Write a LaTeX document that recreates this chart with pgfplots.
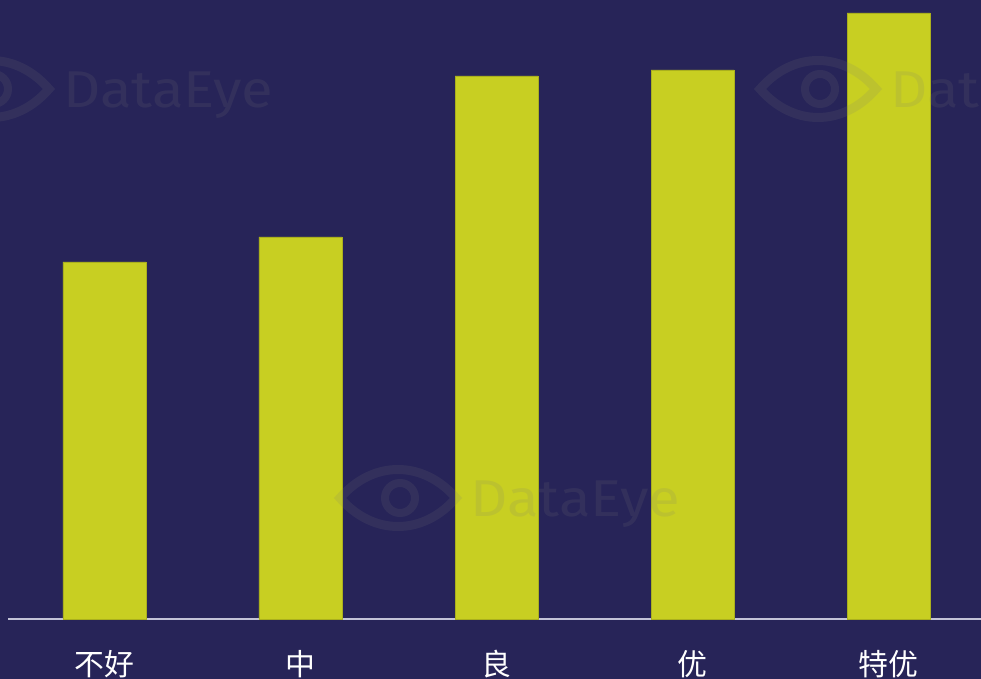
\documentclass[border=0pt]{standalone}
\usepackage{fontspec}
\usepackage{pgfplots}
\pgfplotsset{compat=1.18}
\newfontfamily\cjk{Noto Sans CJK SC}
\newfontfamily\wm{Fira Sans}
\definecolor{bgcol}{RGB}{39,36,88}
\definecolor{barcol}{RGB}{200,207,34}
\definecolor{linecol}{RGB}{195,195,215}
\definecolor{wmgray}{RGB}{120,120,120}
\newcommand{\wmark}[2]{% #1 = x of text start (px), #2 = baseline (px from top)
  \begin{scope}[shift={(#1bp-72bp,679bp-#2bp+19bp)}]
    \draw[wmgray, draw opacity=0.15, line width=9bp]
      (-58bp,0) .. controls (-25bp,38bp) and (25bp,38bp) .. (58bp,0)
      .. controls (25bp,-38bp) and (-25bp,-38bp) .. cycle;
    \draw[wmgray, draw opacity=0.15, line width=8bp] (2bp,0) circle (15bp);
  \end{scope}
  \node[anchor=base west, inner sep=0pt, text=wmgray, text opacity=0.15, xscale=1.12,
        font=\wm\fontsize{52}{52}\selectfont] at (#1bp,679bp-#2bp) {DataEye};
}
\begin{document}
\begin{tikzpicture}
\useasboundingbox (0,0) rectangle (981bp,679bp);
\fill[bgcol] (0,0) rectangle (981bp,679bp);
\begin{axis}[
  at={(8bp,60bp)}, anchor=south west,
  scale only axis, width=973bp, height=619bp,
  xmin=-0.4923, xmax=4.4719, ymin=0, ymax=619,
  enlargelimits=false, clip=false,
  hide y axis,
  axis x line*=bottom,
  x axis line style={draw=linecol, line width=1.5bp, -},
  xtick={0,1,2,3,4},
  xticklabels={不好,中,良,优,特优},
  xtick style={draw=none},
  major tick length=0pt,
  xticklabel style={anchor=base, yshift=-56bp, text=white, font=\cjk\fontsize{30}{30}\selectfont},
]
\addplot[ybar, bar width=83bp, bar shift=0pt, fill=barcol, draw=barcol!85!black, line width=0.6bp]
  coordinates {(0,357) (1,382) (2,543) (3,549) (4,606)};
\end{axis}
\wmark{63}{108}
\wmark{470}{517}
\wmark{890}{108}
\end{tikzpicture}
\end{document}
